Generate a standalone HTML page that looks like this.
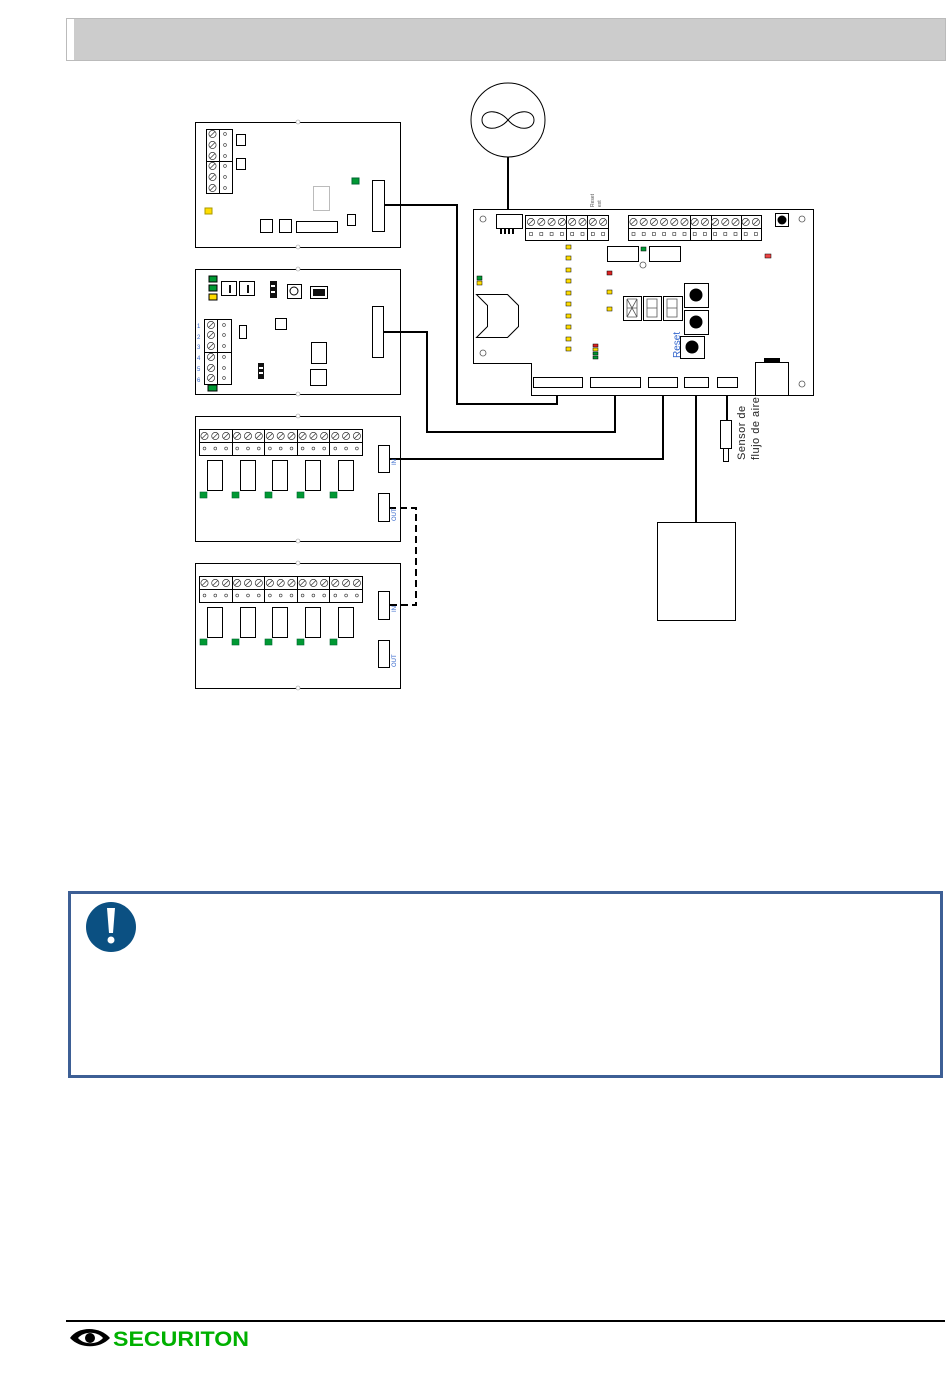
<!DOCTYPE html>
<html><head><meta charset="utf-8"><style>
html,body{margin:0;padding:0;background:#fff;}
body{width:950px;height:1379px;position:relative;overflow:hidden;font-family:"Liberation Sans",sans-serif;}
</style></head><body>
<svg id="s" width="950" height="1379" viewBox="0 0 950 1379" xmlns="http://www.w3.org/2000/svg" style="position:absolute;left:0;top:0">
<!-- header -->
<rect x="66.5" y="18.5" width="879" height="42" fill="#ccc" stroke="#bbb"/>
<rect x="67" y="19" width="7" height="41" fill="#fff"/>

<g fill="none" stroke="#000" stroke-width="1">
<rect x="195.5" y="122.5" width="205" height="125" fill="#fff"/>
<rect x="195.5" y="269.5" width="205" height="125" fill="#fff"/>
<rect x="195.5" y="416.5" width="205" height="125" fill="#fff"/>
<rect x="195.5" y="563.5" width="205" height="125" fill="#fff"/>
</g>

<!-- wires -->
<g fill="none" stroke="#000" stroke-width="2">
<polyline points="384,205 457,205 457,404 557,404 557,387"/>
<polyline points="383,332 427,332 427,432 615,432 615,387"/>
<polyline points="389,459 663,459 663,387"/>
<polyline points="696,387 696,522"/>
<polyline points="727,387 727,420"/>
<polyline points="508,157 508,214"/>
<polyline points="389,508 416,508 416,605 389,605" stroke-dasharray="7,4"/>
</g>

<!-- fan -->
<circle cx="508" cy="120" r="37" fill="#fff" stroke="#000"/>
<path d="M508,120 C498,108 482,110 482,120 C482,130 498,132 508,120 C518,108 534,110 534,120 C534,130 518,132 508,120Z" fill="none" stroke="#000"/>

<!-- main board -->
<polygon points="473.5,209.5 813.5,209.5 813.5,395.5 531.5,395.5 531.5,363.5 473.5,363.5" fill="#fff" stroke="#000"/>
<rect x="496.5" y="214.5" width="26" height="14" fill="#fff" stroke="#000"/>
<g fill="#000"><rect x="500" y="229" width="2" height="5"/><rect x="504" y="229" width="2" height="5"/><rect x="508" y="229" width="2" height="5"/><rect x="512" y="229" width="2" height="5"/></g>
<g fill="#fff" stroke="#000">
<rect x="533.5" y="377.5" width="49" height="10"/>
<rect x="590.5" y="377.5" width="50" height="10"/>
<rect x="648.5" y="377.5" width="29" height="10"/>
<rect x="684.5" y="377.5" width="24" height="10"/>
<rect x="717.5" y="377.5" width="20" height="10"/>
<rect x="755.5" y="362.5" width="33" height="33"/>
<rect x="720.5" y="420.5" width="11" height="28"/>
<rect x="723.5" y="448.5" width="5" height="13"/>
<rect x="657.5" y="522.5" width="78" height="98"/>
<rect x="607.5" y="246.5" width="31" height="15"/>
<rect x="649.5" y="246.5" width="31" height="15"/>
<rect x="623.5" y="296.5" width="18" height="24"/>
<rect x="643.5" y="296.5" width="18" height="24"/>
<rect x="663.5" y="296.5" width="19" height="24"/>
<rect x="684.5" y="283.5" width="24" height="24"/>
<rect x="684.5" y="310.5" width="24" height="24"/>
<rect x="680.5" y="336.5" width="24" height="22"/>
<rect x="775.5" y="213.5" width="13" height="13"/>
</g>
<rect x="764" y="358" width="16" height="4" fill="#000"/>
<g fill="#000"><circle cx="696" cy="295" r="6.5"/><circle cx="696" cy="322" r="6.5"/><circle cx="692" cy="347" r="6.5"/><circle cx="782" cy="220" r="4.5"/></g>
<g fill="none" stroke="#555" stroke-width="0.8">
<path d="M627,299 h10 M627,317 h10 M627,299 v18 M637,299 v18 M627,299 l10,18 M637,299 l-10,18 M627,308 h10"/>
<path d="M647,299 h10 v18 h-10z M647,308 h10"/>
<path d="M667,299 h10 v18 h-10z M667,308 h10"/>
</g>
<g fill="#fff" stroke="#555" stroke-width="0.8"><circle cx="483" cy="219" r="3"/><circle cx="802" cy="219" r="3"/><circle cx="483" cy="353" r="3"/><circle cx="802" cy="384" r="3"/><circle cx="643" cy="265" r="3"/></g>
<path d="M476.5,294.5 L507.5,294.5 L518.5,305.5 L518.5,326.5 L507.5,337.5 L476.5,337.5 L487.5,326.5 L487.5,305.5 Z" fill="#fff" stroke="#000"/>
<g stroke="#000" stroke-width="0.5">
<rect x="641" y="247" width="5" height="4" fill="#093"/>
<rect x="607" y="271" width="5" height="4" fill="#d22"/>
<rect x="607" y="290" width="5" height="4" fill="#fd0"/>
<rect x="607" y="307" width="5" height="4" fill="#fd0"/>
<rect x="765" y="254" width="6" height="4" fill="#e44"/>
<rect x="477" y="276" width="5" height="4" fill="#093"/>
<rect x="477" y="281" width="5" height="4" fill="#fd0"/>
<rect x="593" y="344" width="5" height="3" fill="#d22"/>
<rect x="593" y="348" width="5" height="3" fill="#fd0"/>
<rect x="593" y="352" width="5" height="3" fill="#093"/>
<rect x="593" y="356" width="5" height="3" fill="#093"/>
</g>
<text x="0" y="0" transform="translate(680,358) rotate(-90)" font-size="10" fill="#3366cc">Reset</text>
<text x="0" y="0" transform="translate(594,207) rotate(-90)" font-size="5" fill="#555">Reset</text>
<text x="0" y="0" transform="translate(601,207) rotate(-90)" font-size="5" fill="#555">ext</text>
<text x="0" y="0" transform="translate(745,460) rotate(-90)" font-size="11" fill="#222" letter-spacing="0.5">Sensor de</text>
<text x="0" y="0" transform="translate(759,460) rotate(-90)" font-size="11" fill="#222" letter-spacing="0.5">flujo de aire</text>

<!-- board 1 details -->
<g fill="#fff" stroke="#000">
<rect x="236.5" y="134.5" width="9" height="11"/>
<rect x="236.5" y="158.5" width="9" height="11"/>
<rect x="260.5" y="219.5" width="12" height="13"/>
<rect x="279.5" y="219.5" width="12" height="13"/>
<rect x="296.5" y="221.5" width="41" height="11"/>
<rect x="347.5" y="214.5" width="8" height="11"/>
<rect x="372.5" y="180.5" width="12" height="51"/>
<rect x="313.5" y="186.5" width="16" height="24" stroke="#bbb"/>
<rect x="205" y="208" width="7" height="6" fill="#fd0" stroke="#a90"/>
<rect x="352" y="178" width="7" height="6" fill="#093" stroke="#063"/>
<rect x="209" y="276" width="8" height="6" fill="#093"/>
<rect x="209" y="285" width="8" height="6" fill="#093"/>
<rect x="209" y="294" width="8" height="6" fill="#fd0"/>
<rect x="221.5" y="281.5" width="15" height="14"/>
<rect x="239.5" y="281.5" width="15" height="14"/>
<rect x="287.5" y="284.5" width="14" height="14"/>
<rect x="310.5" y="286.5" width="17" height="12"/>
<rect x="239.5" y="325.5" width="7" height="13"/>
<rect x="275.5" y="318.5" width="11" height="11"/>
<rect x="311.5" y="342.5" width="15" height="21"/>
<rect x="310.5" y="369.5" width="16" height="16"/>
<rect x="372.5" y="306.5" width="11" height="51"/>
<rect x="208" y="385" width="9" height="6" fill="#093"/>
</g>
<rect x="270" y="281" width="7" height="17" fill="#111"/>
<rect x="258" y="363" width="6" height="16" fill="#111"/>
<g fill="#fff"><rect x="271" y="285" width="4" height="2"/><rect x="271" y="291" width="4" height="2"/><rect x="259" y="367" width="4" height="2"/><rect x="259" y="372" width="4" height="2"/></g>
<circle cx="294" cy="291" r="4" fill="none" stroke="#000"/>
<g fill="#111"><rect x="229" y="285" width="2" height="8"/><rect x="247" y="285" width="2" height="8"/><rect x="313" y="289" width="12" height="7"/></g>
<g font-size="6" fill="#3366cc"><text x="197" y="328">1</text><text x="197" y="339">2</text><text x="197" y="349">3</text><text x="197" y="360">4</text><text x="197" y="371">5</text><text x="197" y="382">6</text></g>

<g fill="#fff" stroke="#000">
<rect x="378.5" y="445.5" width="11" height="27"/>
<rect x="378.5" y="493.5" width="11" height="28"/>
<rect x="378.5" y="591.5" width="11" height="28"/>
<rect x="378.5" y="640.5" width="11" height="27"/>
</g>
<g font-size="6" fill="#3366cc">
<text transform="translate(396,465) rotate(-90)">IN</text>
<text transform="translate(396,521) rotate(-90)">OUT</text>
<text transform="translate(396,612) rotate(-90)">IN</text>
<text transform="translate(396,667) rotate(-90)">OUT</text>
</g>

<!-- info box -->
<rect x="69.5" y="892.5" width="872" height="184" fill="none" stroke="#3d5f95" stroke-width="3"/>
<circle cx="111" cy="927" r="25" fill="#0b5082"/>
<path d="M107,908 h8 l-2,25 h-4z" fill="#fff"/>
<circle cx="111" cy="940" r="3.5" fill="#fff"/>

<!-- footer -->
<rect x="66" y="1320" width="879" height="2" fill="#000"/>
<path d="M70,1338 C78,1326 100,1326 110,1338 C100,1349 80,1349 70,1338Z" fill="#000"/>
<path d="M78,1338 C84,1331 97,1331 103,1338 C97,1345 84,1345 78,1338Z" fill="#fff"/>
<circle cx="90" cy="1338" r="5" fill="#000"/>
<text x="113" y="1346" font-size="21" font-weight="bold" fill="#00b000" textLength="136" lengthAdjust="spacingAndGlyphs">SECURITON</text>
<g id="dyn"></g>
</svg>
<script>
var g=document.getElementById('dyn'),h='';
function screw(x,y){h+='<circle cx="'+x+'" cy="'+y+'" r="3.6" fill="#fff" stroke="#333" stroke-width="0.7"/><line x1="'+(x-2.4)+'" y1="'+(y+2.4)+'" x2="'+(x+2.4)+'" y2="'+(y-2.4)+'" stroke="#333" stroke-width="0.7"/>';}
function dot(x,y){h+='<circle cx="'+x+'" cy="'+y+'" r="1.4" fill="#fff" stroke="#333" stroke-width="0.6"/>';}
function sq(x,y){h+='<rect x="'+(x-1.5)+'" y="'+(y-1.5)+'" width="3" height="3" fill="#fff" stroke="#333" stroke-width="0.6"/>';}
function R(x,y,w,hh,f,s){h+='<rect x="'+x+'" y="'+y+'" width="'+w+'" height="'+hh+'" fill="'+(f||'#fff')+'" stroke="'+(s||'#000')+'"/>';}
R(206.5,129.5,26,32);R(206.5,161.5,26,32);h+='<line x1="219.5" y1="129" x2="219.5" y2="193" stroke="#000"/>';
[134,145,156,166,177,188].forEach(function(y){screw(212.5,y);dot(225,y);});
R(204.5,319.5,27,33);R(204.5,352.5,27,32);h+='<line x1="217.5" y1="319" x2="217.5" y2="384" stroke="#000"/>';
[325,335,346,357,368,378].forEach(function(y){screw(211,y);dot(224,y);});
[0,147].forEach(function(o){
 R(199.5,429.5+o,163,26);h+='<line x1="199" y1="'+(442.5+o)+'" x2="362" y2="'+(442.5+o)+'" stroke="#000"/>';
 [232.5,264.5,297.5,329.5].forEach(function(x){h+='<line x1="'+x+'" y1="'+(429+o)+'" x2="'+x+'" y2="'+(455+o)+'" stroke="#000"/>';});
 for(var i=0;i<15;i++){var x=204.5+i*10.8+Math.floor(i/3)*0.3;screw(x,436+o);dot(x,448.5+o);}
 [207.5,240.5,272.5,305.5,338.5].forEach(function(x,k){R(x,460.5+o,15,30);h+='<rect x="'+[200,232,265,297,330][k]+'" y="'+(492+o)+'" width="7" height="6" fill="#093" stroke="#063" stroke-width="0.6"/>';});
});
R(525.5,215.5,83,25);h+='<line x1="525" y1="228.5" x2="608" y2="228.5" stroke="#000"/>';
[566.5,587.5].forEach(function(x){h+='<line x1="'+x+'" y1="215" x2="'+x+'" y2="240" stroke="#000"/>';});
for(var i=0;i<8;i++){var x=531+i*10.3;screw(x,222);sq(x,234);}
R(628.5,215.5,133,25);h+='<line x1="628" y1="228.5" x2="761" y2="228.5" stroke="#000"/>';
[690.5,711.5,741.5].forEach(function(x){h+='<line x1="'+x+'" y1="215" x2="'+x+'" y2="240" stroke="#000"/>';});
for(var i=0;i<13;i++){var x=633.5+i*10.2;screw(x,222);sq(x,234);}
[245,256,268,279,291,302,314,325,337,347].forEach(function(y){h+='<rect x="566" y="'+y+'" width="5" height="4" fill="#fd0" stroke="#000" stroke-width="0.5"/>';});
[122,247,269,394,416,541,563,688].forEach(function(y){h+='<circle cx="298" cy="'+y+'" r="2" fill="#fff" stroke="#999" stroke-width="0.6"/>';});
g.innerHTML=h;
</script>
</body></html>
